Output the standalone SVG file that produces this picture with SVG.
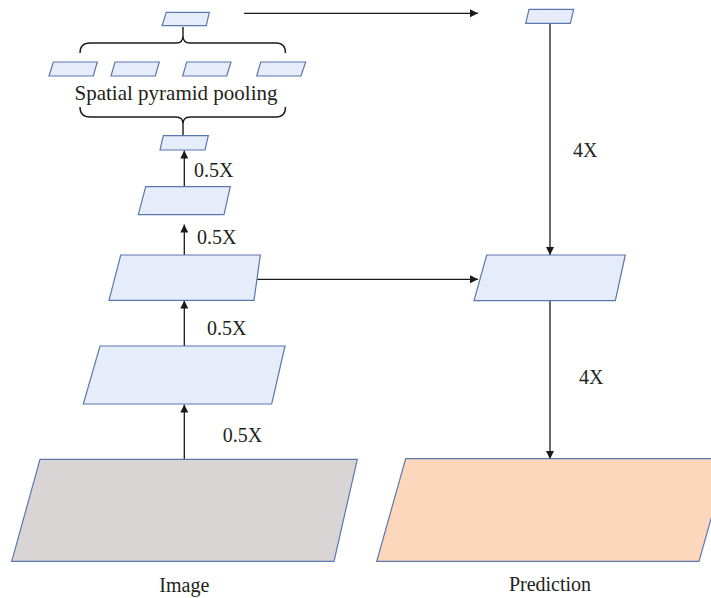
<svg xmlns="http://www.w3.org/2000/svg" width="711" height="598" viewBox="0 0 711 598">
<style>
.fm{fill:#e6ecf9;stroke:#5b77b0;stroke-width:1.2}
.img{fill:#d9d5d4;stroke:#5b77b0;stroke-width:1.2}
.pred{fill:#fdd7bb;stroke:#5b77b0;stroke-width:1.2}
.ln{fill:none;stroke:#1a1a1a;stroke-width:1.3}
.br{fill:none;stroke:#1a1a1a;stroke-width:1.4}
.t{font-family:"Liberation Serif","DejaVu Serif",serif;fill:#231f20;font-size:20px}
.big{font-size:21px}
</style>
<defs>
<marker id="ah" viewBox="0 0 10 10" refX="10" refY="5" markerWidth="8" markerHeight="8" markerUnits="userSpaceOnUse" orient="auto">
<path d="M0,0 L10,5 L0,10 z" fill="#1a1a1a"/>
</marker>
</defs>
<rect width="711" height="598" fill="#ffffff"/>
<g id="connectors">
<line class="ln" x1="244" y1="13.3" x2="478" y2="13.3" marker-end="url(#ah)"/>
<line class="ln" x1="550" y1="23.3" x2="550" y2="255" marker-end="url(#ah)"/>
<line class="ln" x1="257" y1="279.3" x2="478" y2="279.3" marker-end="url(#ah)"/>
<line class="ln" x1="550" y1="300.7" x2="550" y2="459" marker-end="url(#ah)"/>
<line class="ln" x1="184.3" y1="186.7" x2="184.3" y2="150.5" marker-end="url(#ah)"/>
<line class="ln" x1="184.3" y1="255" x2="184.3" y2="224.5" marker-end="url(#ah)"/>
<line class="ln" x1="184.3" y1="346" x2="184.3" y2="300.5" marker-end="url(#ah)"/>
<line class="ln" x1="184.3" y1="459.3" x2="184.3" y2="404.5" marker-end="url(#ah)"/>
<path class="br" d="M80,53 Q80,43 90,43 H176 Q183,43 183,36 V27 M183,36 Q183,43 190,43 H276 Q285.5,43 285.5,53"/>
<path class="br" d="M80,107 Q80,117 90,117 H176 Q183,117 183,124 V136 M183,124 Q183,117 190,117 H276 Q285.5,117 285.5,107"/>
</g>
<g id="spp-out"><polygon class="fm" points="166.3,12.3 209.3,12.3 206.3,25.7 162,25.7"/></g>
<g id="pool1"><polygon class="fm" points="53.3,62 97.3,62 93.3,76 49,76"/></g>
<g id="pool2"><polygon class="fm" points="115,62 159.3,62 155.3,76 111,76"/></g>
<g id="pool3"><polygon class="fm" points="186.7,62 231,62 226.7,76 182.7,76"/></g>
<g id="pool4"><polygon class="fm" points="260.7,62 305.7,62 301,76 256.7,76"/></g>
<g id="spp-label"><text class="t big" x="176" y="100" text-anchor="middle">Spatial pyramid pooling</text></g>
<g id="spp-in"><polygon class="fm" points="163.3,135.7 208.3,135.7 205,150 160,150"/></g>
<g id="f16"><polygon class="fm" points="145.7,186.7 230.3,186.7 224,214.7 138.3,214.7"/></g>
<g id="f8"><polygon class="fm" points="120.7,255 260.3,255 254,300.3 109,300.3"/></g>
<g id="f4"><polygon class="fm" points="100,346 285,346 271.7,404 83.3,404"/></g>
<g id="image"><polygon class="img" points="40,459.3 357.3,459.3 334,561.3 11.7,561.3"/><text class="t" x="184.3" y="591.5" text-anchor="middle">Image</text></g>
<g id="dec-top"><polygon class="fm" points="529,9.3 573.7,9.3 570.3,23.3 525.7,23.3"/></g>
<g id="dec-mid"><polygon class="fm" points="486.7,255 625.3,255 615.3,300.7 474,300.7"/></g>
<g id="prediction"><polygon class="pred" points="405.7,458.7 728,458.7 699,561.3 376.7,561.3"/><text class="t" x="550" y="591" text-anchor="middle">Prediction</text></g>
<g id="labels">
<text class="t" x="194" y="177">0.5X</text>
<text class="t" x="197" y="244">0.5X</text>
<text class="t" x="207" y="335">0.5X</text>
<text class="t" x="222.7" y="442.3">0.5X</text>
<text class="t" x="573" y="156.7">4X</text>
<text class="t" x="579" y="384">4X</text>
</g>
</svg>
